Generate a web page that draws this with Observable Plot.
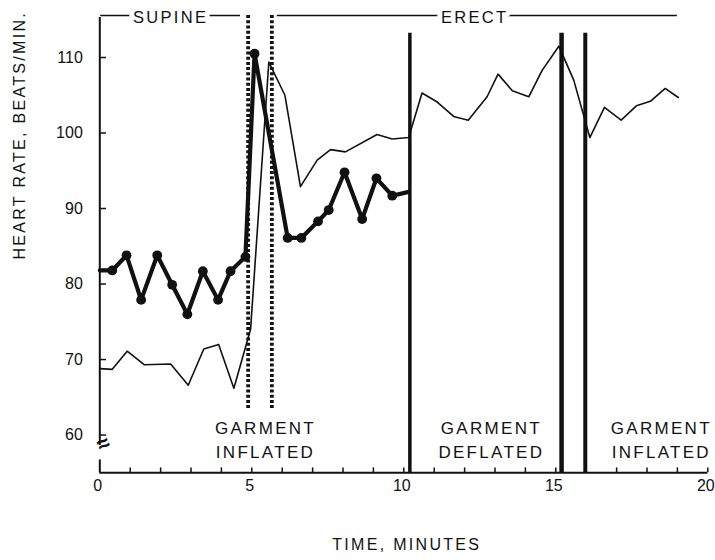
<!DOCTYPE html>
<html>
<head>
<meta charset="utf-8">
<script src="https://cdn.jsdelivr.net/npm/d3@7"></script>
<script src="https://cdn.jsdelivr.net/npm/@observablehq/plot@0.6"></script>
<style>
  body { margin: 0; background: #fff; }
  #chart svg g[aria-label="text"] text { letter-spacing: 2.3px; }
  #chart svg g.tick-label text { letter-spacing: 0; }
</style>
</head>
<body>
<div id="chart"></div>
<script>
// Heart rate, subject with pressure garment (thick line with dots)
const garmentTime = [0, 0.41, 0.88, 1.36, 1.89, 2.38, 2.88, 3.39, 3.89, 4.30, 4.79, 5.09,
  6.18, 6.63, 7.18, 7.53, 8.05, 8.63, 9.10, 9.62, 10.16];
const garmentRate = [81.8, 81.8, 83.8, 77.9, 83.8, 79.9, 76.0, 81.7, 77.9, 81.7, 83.6, 110.5,
  86.1, 86.1, 88.3, 89.8, 94.8, 88.6, 94.0, 91.7, 92.2];

// Heart rate, second record (thin line)
const plainTime = [0, 0.41, 0.90, 1.47, 2.33, 2.91, 3.42, 3.91, 4.41, 4.96,
  5.56, 6.09, 6.60, 7.15, 7.59, 8.08, 9.12, 9.62, 10.16,
  10.60, 11.10, 11.64, 12.12, 12.74, 13.10, 13.57, 14.11, 14.55, 15.10,
  15.59, 16.12, 16.60, 17.15, 17.65, 18.11, 18.60, 19.03];
const plainRate = [68.8, 68.7, 71.1, 69.3, 69.4, 66.6, 71.4, 72.0, 66.2, 74.0,
  109.4, 105.0, 92.9, 96.4, 97.8, 97.5, 99.8, 99.2, 99.4,
  105.3, 104.1, 102.2, 101.7, 104.8, 107.8, 105.6, 104.8, 108.3, 111.5,
  107.0, 99.4, 103.4, 101.7, 103.6, 104.2, 105.9, 104.7];

// Tilt to erect (dotted) and garment inflation/deflation events (solid)
const tiltTimes = [4.88, 5.66];
const eventTimes = [10.2, 15.19, 15.97];
const eventWidths = [3.5, 4.5, 4];

// Posture brackets along the top
const phaseNames = ["SUPINE", "ERECT"];
const phaseStart = [0.03, 5.84];
const phaseEnd = [4.63, 19.0];
const phaseLabelAt = [2.33, 12.33];

// Garment state labels
const stateLabels = ["GARMENT\nINFLATED", "GARMENT\nDEFLATED", "GARMENT\nINFLATED"];
const stateAt = [5.45, 12.88, 18.47];

const xTickLabels = [0, 5, 10, 15, 20];
const yTickLabels = [60, 70, 80, 90, 100, 110];
const xMinorTicks = d3.range(1, 21);

const garment = garmentTime.map((t, i) => ({t, hr: garmentRate[i], i}));
const plain = plainTime.map((t, i) => ({t, hr: plainRate[i]}));
const phases = phaseNames.map((label, i) => ({label, start: phaseStart[i], end: phaseEnd[i], at: phaseLabelAt[i]}));
const states = stateLabels.map((label, i) => ({label, at: stateAt[i]}));
const events = eventTimes.map((t, i) => ({t, w: eventWidths[i]}));

const ink = "#111";

const chart = Plot.plot({
  width: 715,
  height: 560,
  marginLeft: 99.3,
  marginRight: 7.7,
  marginTop: 11.7,
  marginBottom: 87.7,
  style: {fontFamily: "'Liberation Sans', Arial, sans-serif", fontSize: "16px", color: ink, background: "#fff"},
  x: {domain: [0, 20], axis: null},
  y: {domain: [55, 116], ticks: yTickLabels, tickSize: 0, tickPadding: 17, label: null},
  marks: [
    // axes with a break near the bottom of the heart-rate scale
    Plot.ruleY([55], {stroke: ink, strokeWidth: 2}),
    Plot.ruleX([0], {y1: 58.6, y2: 115.3, stroke: ink, strokeWidth: 2}),
    Plot.ruleX([0], {y1: 55, y2: 56.7, stroke: ink, strokeWidth: 2}),
    Plot.text(["≈"], {frameAnchor: "bottom-left", dx: 1, dy: -20, fontSize: 22, fontWeight: "bold", rotate: -25, fill: ink}),
    Plot.ruleY(yTickLabels, {x1: 0, x2: 0.22, stroke: ink, strokeWidth: 1.5}),
    Plot.ruleX(xMinorTicks, {y1: 55, y2: 55.65, stroke: ink, strokeWidth: 1.5}),
    Plot.text(xTickLabels, {x: d => d, text: d => String(d), frameAnchor: "bottom", dx: -2, dy: 18.5, fontSize: 16, fill: ink, className: "tick-label"}),

    // posture brackets
    Plot.ruleY(phases, {y: 115.56, x1: "start", x2: "end", stroke: ink, strokeWidth: 1.5}),
    Plot.text(phases, {x: "at", y: 115.3, text: "label", fill: ink, stroke: "white", strokeWidth: 10, fontSize: 16.5}),

    // event markers
    Plot.ruleX(tiltTimes, {y1: 63.5, y2: 115.8, stroke: ink, strokeWidth: 3.8, strokeDasharray: "3,2.2"}),
    Plot.ruleX(events, {x: "t", y1: 55, y2: 113.2, stroke: ink, strokeWidth: "w"}),

    // heart-rate records
    Plot.line(plain, {x: "t", y: "hr", stroke: ink, strokeWidth: 1.6, strokeLinejoin: "round"}),
    Plot.line(garment, {x: "t", y: "hr", stroke: ink, strokeWidth: 4.2, strokeLinejoin: "round"}),
    Plot.dot(garment.filter(d => d.i > 0 && d.i < garment.length - 1), {x: "t", y: "hr", r: 4.9, fill: ink, stroke: "none"}),

    // garment state labels
    Plot.text(states, {x: "at", y: 59.6, text: "label", fontSize: 17, lineHeight: 1.45, fill: ink}),

    // axis titles
    Plot.text(["TIME, MINUTES"], {frameAnchor: "bottom", dx: 3, dy: 76.7, fontSize: 16, fill: ink}),
    Plot.text(["HEART RATE, BEATS/MIN."], {frameAnchor: "left", dx: -80, dy: 17, rotate: -90, fontSize: 16, fill: ink})
  ]
});

document.getElementById("chart").appendChild(chart);
</script>
</body>
</html>
